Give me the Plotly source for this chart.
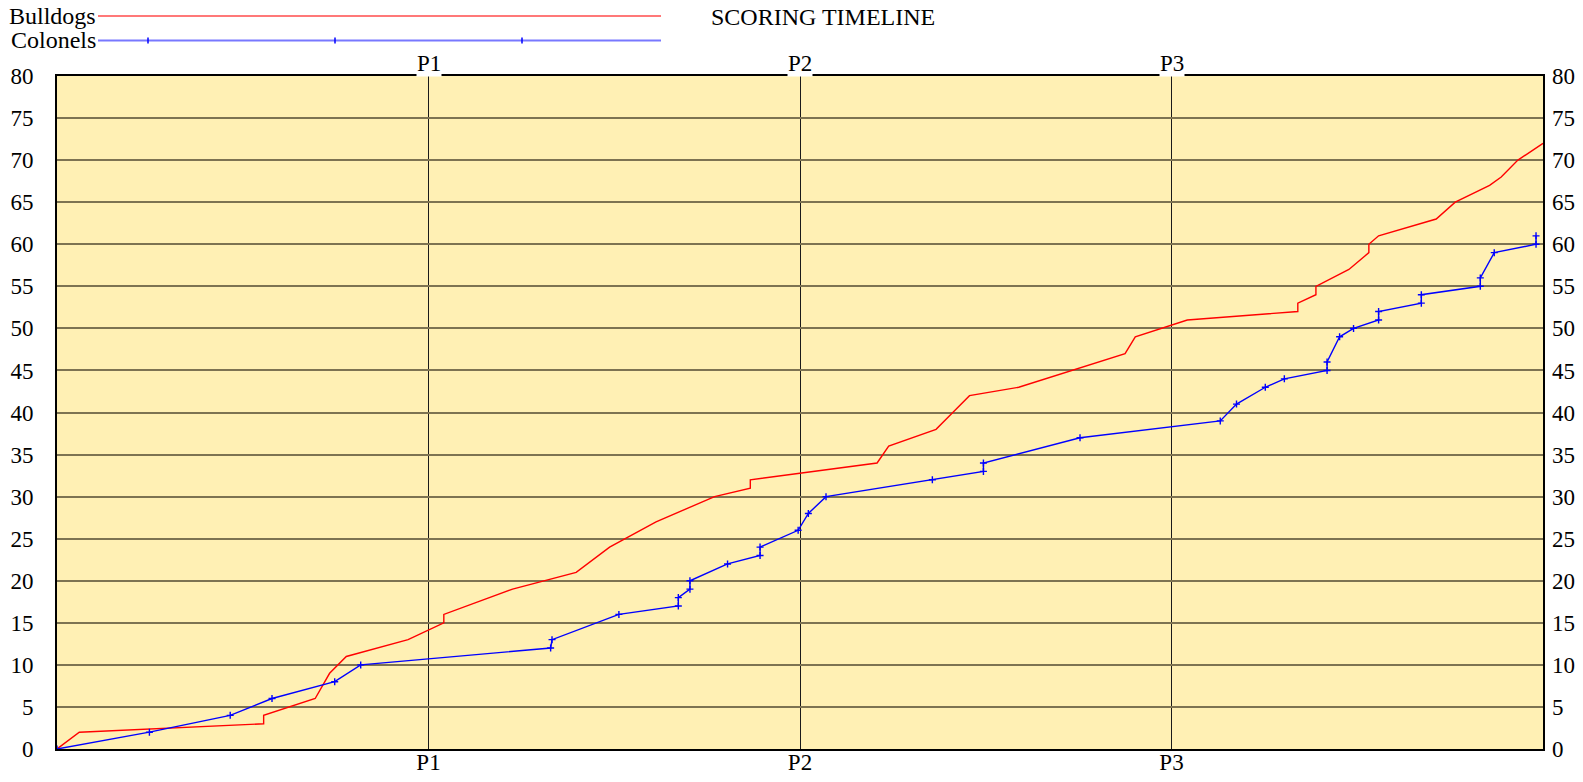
import plotly.graph_objects as go

# ---- data (game minutes, cumulative score) ----
bulldogs_time = [0, 0.48, 4.45, 4.45, 5.56, 5.87, 6.23, 7.56, 8.33, 8.33, 9.81, 11.18,
                 11.9, 12.9, 14.16, 14.93, 14.93, 17.66, 17.91, 18.93, 19.29, 19.65,
                 20.71, 23.0, 23.22, 24.34, 26.72, 26.72, 27.11, 27.11, 27.82, 28.25,
                 28.25, 28.46, 29.7, 30.11, 30.85, 31.1, 31.46, 32.0]
bulldogs_score = [0, 2, 3, 4, 6, 9, 11, 13, 15, 16, 19, 21,
                  24, 27, 30, 31, 32, 34, 36, 38, 40, 42,
                  43, 47, 49, 51, 52, 53, 54, 55, 57, 59,
                  60, 61, 63, 65, 67, 68, 70, 72]

colonels_time = [0, 1.99, 3.73, 4.63, 5.98, 6.54, 10.63, 10.66, 12.1, 13.38, 13.38,
                 13.63, 13.63, 14.44, 15.14, 15.14, 15.96, 16.18, 16.56, 18.85, 19.95,
                 19.95, 22.03, 25.05, 25.40, 26.02, 26.43, 27.35, 27.35, 27.62, 27.92,
                 28.46, 28.46, 29.38, 29.38, 30.65, 30.65, 30.95, 31.85, 31.85]
colonels_score = [0, 2, 4, 6, 8, 10, 12, 13, 16, 17, 18,
                  19, 20, 22, 23, 24, 26, 28, 30, 32, 33,
                  34, 37, 39, 41, 43, 44, 45, 46, 49, 50,
                  51, 52, 53, 54, 55, 56, 59, 60, 61]

period_ends = [8, 16, 24]
period_labels = ["P1", "P2", "P3"]
y_ticks = list(range(0, 81, 5))
team_names = ["Bulldogs", "Colonels"]
title_text = "SCORING TIMELINE"

FONT = "Liberation Serif, Times New Roman, serif"
BG = "#FFF0B4"
GRID = "#7d7352"
TICK_SIZE = 23

fig = go.Figure()
fig.add_trace(go.Scatter(x=bulldogs_time, y=bulldogs_score, mode="lines",
                         line=dict(color="#FF0000", width=1.4), name=team_names[0],
                         showlegend=False, hoverinfo="x+y"))
fig.add_trace(go.Scatter(x=colonels_time, y=colonels_score, mode="lines+markers",
                         line=dict(color="#0000FF", width=1.4),
                         marker=dict(symbol="cross-thin", size=5,
                                     line=dict(color="#0000FF", width=1.4)),
                         name=team_names[1], showlegend=False, hoverinfo="x+y"))
# invisible trace to activate right axis
fig.add_trace(go.Scatter(x=[0, 32], y=[0, 80], yaxis="y2", mode="markers",
                         marker=dict(opacity=0), showlegend=False, hoverinfo="skip"))

fig.update_layout(
    width=1583, height=782,
    margin=dict(l=57, r=40, t=76, b=33, autoexpand=False),
    paper_bgcolor="white",
    plot_bgcolor=BG,
    font=dict(family=FONT, color="black", size=TICK_SIZE),
    xaxis=dict(range=[0, 32], tickvals=period_ends, ticktext=period_labels,
               showgrid=True, gridcolor="#1a1a1a", gridwidth=1.4,
               showline=True, linecolor="black", linewidth=2, mirror=True,
               ticks="", zeroline=False, tickfont=dict(size=TICK_SIZE),
               ticklabelstandoff=-9, automargin=False),
    yaxis=dict(range=[0, 80], tickvals=y_ticks, showgrid=True, gridcolor=GRID,
               gridwidth=2, showline=True, linecolor="black", linewidth=2,
               mirror=True, ticks="", zeroline=False, tickfont=dict(size=TICK_SIZE),
               ticklabelstandoff=17, automargin=False),
    yaxis2=dict(range=[0, 80], tickvals=y_ticks, overlaying="y", side="right",
                showgrid=False, showline=False, ticks="", zeroline=False,
                tickfont=dict(size=TICK_SIZE), ticklabelstandoff=8,
                automargin=False),
    showlegend=False,
)

annotations = []
for xv, lab in zip(period_ends, period_labels):
    annotations.append(dict(x=xv, y=1, xref="x", yref="paper", text=lab,
                            showarrow=False, yanchor="bottom", xanchor="center",
                            bgcolor="white", borderpad=0, yshift=-1,
                            font=dict(size=TICK_SIZE, family=FONT)))
# title
annotations.append(dict(x=(823 - 57) / 1486, y=1 + (76 - 17) / 673, xref="paper",
                        yref="paper", text=title_text, showarrow=False,
                        xanchor="center", yanchor="middle",
                        font=dict(size=24, family=FONT)))
# legend texts
leg_y = [1 + (76 - 16) / 673, 1 + (76 - 40.5) / 673]
for name, ly in zip(team_names, leg_y):
    annotations.append(dict(x=(98 - 57) / 1486, y=ly, xref="paper", yref="paper",
                            text=name, showarrow=False, xanchor="right",
                            yanchor="middle", font=dict(size=24, family=FONT)))
fig.update_layout(annotations=annotations)

shapes = []
x0 = (98 - 57) / 1486
x1 = (661 - 57) / 1486
shapes.append(dict(type="line", xref="paper", yref="paper", x0=x0, x1=x1,
                   y0=leg_y[0], y1=leg_y[0], line=dict(color="#FF7878", width=2)))
shapes.append(dict(type="line", xref="paper", yref="paper", x0=x0, x1=x1,
                   y0=leg_y[1], y1=leg_y[1], line=dict(color="#7878FF", width=2)))
for px in (148, 335, 522):
    xp = (px - 57) / 1486
    shapes.append(dict(type="line", xref="paper", yref="paper", x0=xp, x1=xp,
                       y0=leg_y[1] - 3 / 673, y1=leg_y[1] + 3 / 673,
                       line=dict(color="#0000FF", width=1.5)))
fig.update_layout(shapes=shapes)

fig.write_html("out.html", config={"displayModeBar": False},
               post_script="document.body.style.margin='0';")
